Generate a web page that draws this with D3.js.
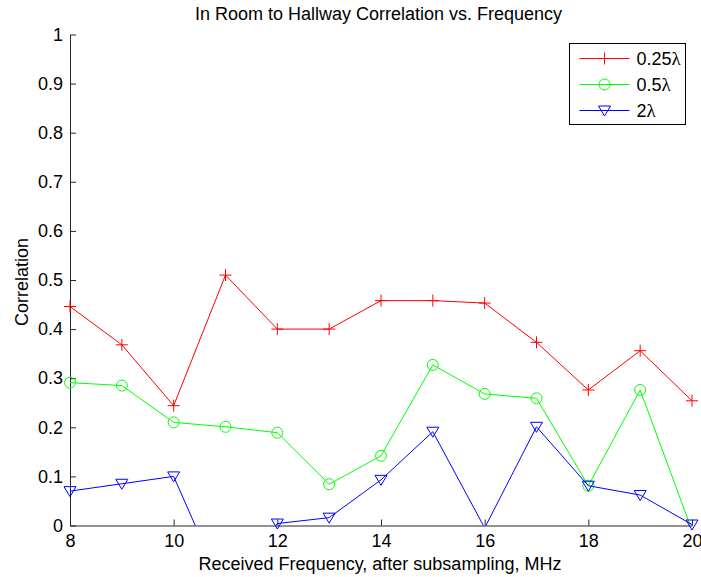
<!DOCTYPE html>
<html>
<head>
<meta charset="utf-8">
<script src="https://cdnjs.cloudflare.com/ajax/libs/d3/7.8.5/d3.min.js"></script>
<style>
  body { margin: 0; background: #fff; }
  text { font-family: "Liberation Sans", Arial, sans-serif; fill: #000; }
</style>
</head>
<body>
<div id="chart"></div>
<script>
// data
var freqs = [8, 9, 10, 11, 12, 13, 14, 15, 16, 17, 18, 19, 20];
var corrQuarter = [0.446, 0.368, 0.244, 0.510, 0.400, 0.400, 0.458, 0.458, 0.453, 0.373, 0.276, 0.356, 0.254];
var corrHalf = [0.291, 0.285, 0.210, 0.201, 0.189, 0.084, 0.142, 0.327, 0.268, 0.259, 0.081, 0.276, -0.01];
var corrTwo = [0.070, 0.085, 0.100, -0.14, 0.004, 0.016, 0.093, 0.191, -0.005, 0.201, 0.081, 0.062, 0.002];
var seriesNames = ["0.25", "0.5", "2"];   // each followed by lambda
var xTicks = [8, 10, 12, 14, 16, 18, 20];
var yTicks = [0, 0.1, 0.2, 0.3, 0.4, 0.5, 0.6, 0.7, 0.8, 0.9, 1];

var W = 701, H = 577;
var margin = { left: 70, right: 9, top: 34.5, bottom: 51.5 };
var wid = W - margin.left - margin.right;
var hei = H - margin.top - margin.bottom;

var svg = d3.select("#chart").append("svg")
    .attr("width", W)
    .attr("height", H);

var g = svg.append("g")
    .attr("transform", "translate(" + margin.left + "," + margin.top + ")");

g.append("clipPath")
    .attr("id", "plot-area")
    .append("rect")
    .attr("x", 0)
    .attr("y", 0)
    .attr("width", wid)
    .attr("height", hei);

var xScale = d3.scaleLinear().domain([8, 20]).range([0, wid]);
var yScale = d3.scaleLinear().domain([0, 1]).range([hei, 0]);

var series = [
    { name: seriesNames[0], values: corrQuarter, color: "#ff0000", marker: "plus" },
    { name: seriesNames[1], values: corrHalf, color: "#00ff00", marker: "circle" },
    { name: seriesNames[2], values: corrTwo, color: "#0000ff", marker: "tri" }
];

// axes (ticks point inward, no box)
var xAxis = d3.axisBottom(xScale).tickValues(xTicks).tickSizeInner(-6).tickSizeOuter(0).tickPadding(8.5);
var yAxis = d3.axisLeft(yScale).tickValues(yTicks).tickSizeInner(-6).tickSizeOuter(0).tickPadding(7)
    .tickFormat(function (d) { return d === 0 ? "0" : d === 1 ? "1" : d.toFixed(1); });

var xg = g.append("g").attr("transform", "translate(0," + hei + ")").call(xAxis);
var yg = g.append("g").call(yAxis);
[xg, yg].forEach(function (ax) {
    ax.attr("font-family", null).attr("font-size", null);
    ax.selectAll("path, line").attr("stroke", "#262626");
    ax.selectAll("text").attr("font-size", 18).attr("fill", "#000");
});

function drawMarker(sel, type, color) {
    if (type === "plus") {
        sel.append("path").attr("d", "M-6,0H6M0,-6V6");
    } else if (type === "circle") {
        sel.append("circle").attr("r", 5.5);
    } else {
        sel.append("path").attr("d", "M-6,-4.5L6,-4.5L0,5.5Z");
    }
    sel.selectAll("path, circle")
        .attr("fill", "none")
        .attr("stroke", color)
        .attr("stroke-width", 1);
}

var line = d3.line()
    .x(function (d, i) { return xScale(freqs[i]); })
    .y(function (d) { return yScale(d); });

series.forEach(function (s) {
    g.append("path")
        .datum(s.values)
        .attr("clip-path", "url(#plot-area)")
        .attr("fill", "none")
        .attr("stroke", s.color)
        .attr("stroke-width", 1)
        .attr("d", line);

    var pts = s.values.map(function (v, i) { return { x: freqs[i], y: v }; })
        .filter(function (p) { return p.y >= 0; });

    g.append("g").selectAll("g")
        .data(pts)
        .enter()
        .append("g")
        .attr("transform", function (p) { return "translate(" + xScale(p.x) + "," + yScale(p.y) + ")"; })
        .each(function () { drawMarker(d3.select(this), s.marker, s.color); });
});

// title and labels
svg.append("text")
    .attr("x", 378.5)
    .attr("y", 20)
    .attr("font-size", 18)
    .attr("text-anchor", "middle")
    .text("In Room to Hallway Correlation vs. Frequency");

svg.append("text")
    .attr("x", 380)
    .attr("y", 570)
    .attr("font-size", 18)
    .attr("text-anchor", "middle")
    .text("Received Frequency, after subsampling, MHz");

svg.append("text")
    .attr("transform", "translate(28,282) rotate(-90)")
    .attr("font-size", 18)
    .attr("text-anchor", "middle")
    .text("Correlation");

// legend
var legend = svg.append("g").attr("transform", "translate(569.5,43.5)");
legend.append("rect")
    .attr("width", 116)
    .attr("height", 81)
    .attr("fill", "#fff")
    .attr("stroke", "#000")
    .attr("stroke-width", 1);

series.forEach(function (s, i) {
    var row = legend.append("g").attr("transform", "translate(0," + (15 + i * 26) + ")");
    row.append("line")
        .attr("x1", 10).attr("x2", 60)
        .attr("stroke", s.color)
        .attr("stroke-width", 1);
    var m = row.append("g").attr("transform", "translate(35,0)");
    drawMarker(m, s.marker, s.color);
    var t = row.append("text")
        .attr("x", 67)
        .attr("y", 0)
        .attr("dy", "0.35em")
        .attr("font-size", 18)
        .text(s.name);
    t.append("tspan")
        .attr("font-family", "'Liberation Serif', 'DejaVu Serif', serif")
        .attr("font-size", 19)
        .text("\u03bb");
});
</script>
</body>
</html>
